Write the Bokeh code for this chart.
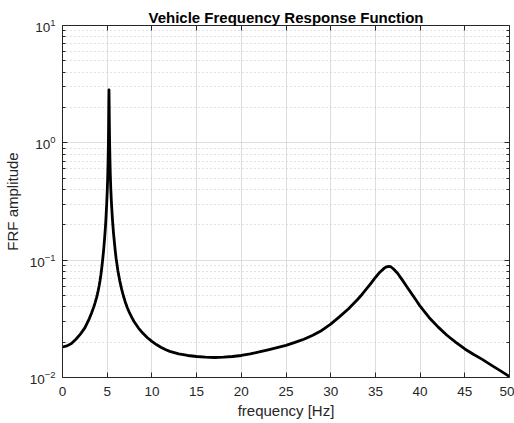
from bokeh.plotting import figure
from bokeh.models import (LinearAxis, LogAxis, FixedTicker, LogTickFormatter,
                          CustomJSTickFormatter, Range1d, ColumnDataSource)
from bokeh.embed import file_html
from bokeh.resources import INLINE

# ---- data ----
freq_hz = [0, 0.5, 1.0, 1.5, 2.0, 2.5, 3.0, 3.25, 3.5, 3.65, 3.8, 3.9, 4.0,
           4.1, 4.2, 4.3, 4.4, 4.5, 4.6, 4.7, 4.8, 4.85, 4.9, 4.95, 5.0, 5.05,
           5.1, 5.13, 5.16, 5.18, 5.20, 5.22, 5.24, 5.27, 5.3, 5.35, 5.4, 5.45,
           5.5, 5.6, 5.7, 5.8, 5.9, 6.0, 6.2, 6.4, 6.6, 6.8, 7.0, 7.25, 7.5,
           7.75, 8.0, 8.5, 9.0, 9.5, 10.0, 10.5, 11.0, 11.5, 12.0, 13.0, 14.0,
           15.0, 16.0, 17.0, 18.0, 19.0, 20.0, 21.0, 22.0, 23.0, 24.0, 25.0,
           26.0, 27.0, 28.0, 29.0, 30.0, 31.0, 32.0, 33.0, 33.5, 34.0, 34.5,
           35.0, 35.5, 36.0, 36.25, 36.5, 36.75, 37.0, 37.5, 38.0, 38.5, 39.0,
           39.5, 40.0, 41.0, 42.0, 43.0, 44.0, 45.0, 46.0, 47.0, 48.0, 49.0,
           50.0]
frf_amp = [0.0182, 0.0186, 0.0195, 0.0212, 0.0234, 0.0265, 0.0318, 0.0355,
           0.0400, 0.0435, 0.0478, 0.0512, 0.0553, 0.0605, 0.067, 0.0755,
           0.087, 0.102, 0.122, 0.150, 0.19, 0.22, 0.26, 0.31, 0.38, 0.49,
           0.70, 0.95, 1.45, 2.1, 2.82, 2.1, 1.5, 1.0, 0.75, 0.53, 0.41, 0.335,
           0.285, 0.215, 0.172, 0.143, 0.120, 0.103, 0.081, 0.067, 0.0572,
           0.0500, 0.0445, 0.0393, 0.0355, 0.0325, 0.0300, 0.0264, 0.0238,
           0.0218, 0.0203, 0.0191, 0.0181, 0.0173, 0.0167, 0.0159, 0.0154,
           0.0151, 0.0149, 0.0148, 0.0149, 0.0151, 0.0154, 0.0159, 0.0165,
           0.0172, 0.0180, 0.0188, 0.0199, 0.0212, 0.0229, 0.0252, 0.0285,
           0.0330, 0.0385, 0.0462, 0.0510, 0.0568, 0.0635, 0.0712, 0.0790,
           0.0855, 0.0878, 0.0886, 0.0875, 0.0845, 0.0770, 0.0680, 0.0597,
           0.0525, 0.0462, 0.0405, 0.0325, 0.0270, 0.0229, 0.0199, 0.0175,
           0.0157, 0.0142, 0.0127, 0.0114, 0.0102]

x_ticks = [0, 5, 10, 15, 20, 25, 30, 35, 40, 45, 50]
y_ticks = [0.01, 0.1, 1, 10]
y_minor = [m * d for d in [0.01, 0.1, 1] for m in range(2, 10)]

title_text = "Vehicle Frequency Response Function"
x_label = "frequency [Hz]"
y_label = "FRF amplitude"

FONT = "Liberation Sans"
AX = "#262626"

src = ColumnDataSource(data=dict(f=freq_hz, a=frf_amp))

p = figure(width=514, height=423, x_range=Range1d(0, 50),
           y_range=Range1d(0.01, 10), y_axis_type="log",
           output_backend="svg", toolbar_location=None,
           min_border_left=62, min_border_right=5, min_border_top=25,
           min_border_bottom=46, background_fill_color="white",
           border_fill_color="white", outline_line_color=None)

p.title.text = title_text
p.title.align = "center"
p.title.text_font = FONT
p.title.text_font_size = "15px"
p.title.text_font_style = "bold"
p.title.text_color = "black"
p.title.standoff = 0
p.title.offset = 0

xt = FixedTicker(ticks=x_ticks, minor_ticks=[])
yt = FixedTicker(ticks=y_ticks, minor_ticks=y_minor)

xa = p.xaxis[0]
xa.ticker = xt
ya = p.yaxis[0]
ya.ticker = yt
ya.formatter = LogTickFormatter()

for ax in (xa, ya):
    ax.axis_line_color = AX
    ax.major_tick_line_color = AX
    ax.minor_tick_line_color = AX
    ax.major_tick_in = 5
    ax.major_tick_out = 0
    ax.minor_tick_in = 3
    ax.minor_tick_out = 0
    ax.major_label_text_font = FONT
    ax.major_label_text_font_size = "13.5px"
    ax.major_label_text_color = AX
    ax.axis_label_text_font = FONT
    ax.axis_label_text_font_size = "15px"
    ax.axis_label_text_font_style = "normal"
    ax.axis_label_text_color = AX

xa.axis_label = x_label
ya.axis_label = y_label
xa.major_label_standoff = 9
xa.axis_label_standoff = 3
ya.major_label_standoff = 7
ya.axis_label_standoff = 6

blank = CustomJSTickFormatter(code="return ''")
top = LinearAxis(ticker=xt, formatter=blank, major_label_text_font_size="1px",
                 major_tick_in=5, major_tick_out=0, major_label_standoff=0,
                 axis_line_color=AX, major_tick_line_color=AX,
                 minor_tick_line_color=None)
right = LogAxis(ticker=yt, formatter=blank, major_label_text_font_size="1px",
                major_tick_in=5, major_tick_out=0, minor_tick_in=3,
                minor_tick_out=0, major_label_standoff=0,
                axis_line_color=AX, major_tick_line_color=AX,
                minor_tick_line_color=AX)
p.add_layout(top, "above")
p.add_layout(right, "right")

p.xgrid.ticker = xt
p.xgrid.grid_line_color = "#dedede"
p.xgrid.grid_line_width = 1
p.ygrid.ticker = yt
p.ygrid.grid_line_color = "#dedede"
p.ygrid.grid_line_width = 1
p.ygrid.minor_grid_line_color = "#c4c4c4"
p.ygrid.minor_grid_line_dash = "1 3"
p.ygrid.minor_grid_line_width = 1

p.line("f", "a", source=src, line_color="black", line_width=2.8,
       line_join="round")

open("out.html", "w").write(file_html(p, INLINE))
